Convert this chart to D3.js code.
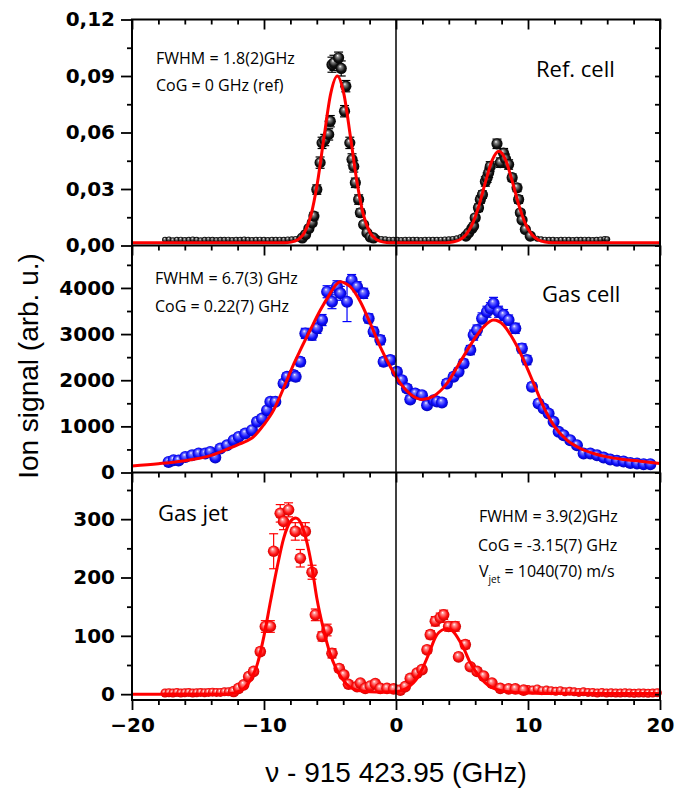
<!DOCTYPE html>
<html>
<head>
<meta charset="utf-8">
<script src="https://cdnjs.cloudflare.com/ajax/libs/d3/7.8.5/d3.min.js"></script>
<style>
  body { margin: 0; background: #fff; }
</style>
</head>
<body>
<div id="content"></div>
<script>
// ---- tick labels
const xTicks = [-20, -10, 0, 10, 20];
const refTicks = [0, 0.03, 0.06, 0.09, 0.12];
const gasTicks = [0, 1000, 2000, 3000, 4000];
const jetTicks = [0, 100, 200, 300];

// ---- Ref. cell (black)
const refX = [-7.1,-6.85,-6.6,-6.35,-6.22,-6.0,-5.75,-5.6,-5.4,-5.1,-4.98,-4.85,-4.7,-4.35,-4.15,-3.9,-3.8,-3.5,-3.33,-3.2,-3.08,-2.83,-2.7,-2.45,-2.2,-1.95,-1.7,
  5.3,5.5,5.75,5.88,6.0,6.25,6.39,6.55,6.77,6.9,7.02,7.14,7.65,7.9,8.15,8.3,8.53,8.8,9.17,9.29,9.42,9.55,9.8,10.17];
const refY = [0.004,0.0058,0.009,0.012,0.0156,0.0297,0.044,0.0545,0.056,0.059,0.066,0.096,0.097,0.0997,0.094,0.0713,0.0846,0.0545,0.0457,0.042,0.0333,0.0244,0.0174,0.0111,0.0067,0.0045,0.004,
  0.005,0.0067,0.009,0.0103,0.0147,0.02,0.0244,0.027,0.034,0.036,0.0386,0.042,0.054,0.044,0.049,0.046,0.043,0.036,0.0306,0.0244,0.0174,0.0135,0.0085,0.005];
const refErr = [0.0005,0.0008,0.001,0.0015,0.002,0.0025,0.003,0.003,0.003,0.003,0.003,0.004,0.004,0.003,0.004,0.003,0.003,0.003,0.003,0.003,0.0025,0.0025,0.002,0.0015,0.001,0.0008,0.0005,
  0.0005,0.0008,0.001,0.001,0.0015,0.002,0.002,0.002,0.0025,0.0025,0.0025,0.0025,0.0025,0.0025,0.0025,0.0025,0.0025,0.002,0.002,0.002,0.0015,0.001,0.001,0.0005];
const refWideX = [-17.5,-17.2,-16.9,-16.6,-16.3,-16.0,-15.7,-15.4,-15.1,-14.8,-14.5,-14.2,-13.9,-13.6,-13.3,-13.0,-12.7,-12.4,-12.1,-11.8,-11.5,-11.2,-10.9,-10.6,-10.3,-10.0,-9.7,-9.4,-9.1,-8.8,-8.5,-8.2,-7.9,-7.6,-7.3,
  -1.4,-1.1,-0.8,-0.5,-0.2,0.1,0.4,0.7,1.0,1.3,1.6,1.9,2.2,2.5,2.8,3.1,3.4,3.7,4.0,4.3,4.6,4.9,5.1,
  10.4,10.7,11.0,11.3,11.6,11.9,12.2,12.5,12.8,13.1,13.4,13.7,14.0,14.3,14.6,14.9,15.2,15.5,15.8,16.0];
const refWideY = [0.003,0.0032,0.0028,0.003,0.0031,0.0029,0.003,0.0032,0.003,0.0028,0.003,0.0031,0.003,0.0029,0.003,0.003,0.0031,0.0029,0.003,0.003,0.0032,0.003,0.0029,0.003,0.0031,0.003,0.0029,0.003,0.003,0.0031,0.003,0.0032,0.0033,0.0035,0.0038,
  0.0038,0.0035,0.0033,0.0031,0.003,0.003,0.0029,0.003,0.0031,0.003,0.003,0.0029,0.003,0.0031,0.003,0.003,0.0031,0.0032,0.0033,0.0035,0.0038,0.0045,0.0052,
  0.0042,0.0036,0.0033,0.0031,0.003,0.003,0.0029,0.003,0.0031,0.003,0.0029,0.003,0.003,0.0031,0.003,0.0029,0.003,0.0032,0.0035,0.0033];
const refFitX = [-20,-8.45,-7.95,-7.45,-6.95,-6.45,-5.95,-5.45,-4.95,-4.45,-3.95,-3.45,-2.95,-2.45,-1.95,-1.45,-0.95,-0.45,
  3.8,4.3,4.8,5.3,5.8,6.3,6.8,7.3,7.8,8.3,8.8,9.3,9.8,10.3,10.8,11.3,11.8,20];
const refFitY = [0.0015,0.0015,0.0018,0.003,0.0066,0.0158,0.0334,0.0577,0.0805,0.090,0.0805,0.0577,0.0334,0.0158,0.0066,0.003,0.0018,0.0015,
  0.0015,0.0019,0.0029,0.0057,0.0116,0.0216,0.0343,0.0455,0.050,0.0455,0.0343,0.0216,0.0116,0.0057,0.0029,0.0019,0.0015,0.0015];

// ---- Gas cell (blue)
const gasX = [-17.23,-16.85,-16.47,-15.96,-15.45,-14.95,-14.45,-14.07,-13.69,-13.31,-12.8,-12.3,-11.92,-11.42,-10.91,-10.53,-10.15,-9.77,-9.52,-9.14,
  -8.52,-8.26,-7.76,-7.6,-7.25,-6.87,-6.36,-5.98,-5.6,-5.22,-4.85,-4.47,-4.22,-3.71,-3.36,-2.95,-2.45,-2.07,-1.7,-1.19,
  -0.94,-0.43,0.07,0.45,0.83,1.08,1.46,1.97,2.35,2.85,3.1,3.48,3.86,4.36,4.74,5.12,5.63,5.88,6.14,6.52,
  6.89,7.15,7.39,7.77,8.15,8.53,9.04,9.54,9.92,10.3,10.8,11.18,11.56,11.94,12.32,12.7,13.2,13.71,14.21,14.72,
  15.23,15.73,16.23,16.74,17.24,17.75,18.26,18.76,19.27];
const gasY = [230,267,260,338,375,412,412,447,325,520,592,700,772,846,918,1098,1171,1351,1531,1531,
  1930,2074,2111,2074,2400,3015,2978,3124,3304,3918,3701,4026,3883,3701,4171,4026,3883,3340,3050,2870,
  2400,2436,2182,2002,1822,1583,1713,1677,1460,1568,1540,1518,1930,2074,2182,2364,2653,2978,3087,3340,
  3484,3560,3666,3484,3412,3304,3124,2690,2436,1857,1497,1388,1280,1098,881,809,700,592,412,412,
  375,325,282,252,238,208,195,180,180];
const gasErr = [30,30,30,30,35,35,35,35,40,40,40,45,45,50,50,55,55,60,70,70,
  80,80,90,90,90,110,110,110,120,130,150,130,150,430,120,110,110,100,100,100,
  90,90,80,80,80,70,70,70,70,70,70,70,80,80,80,90,100,110,110,120,
  120,120,130,120,120,110,110,100,100,80,70,60,60,50,45,40,40,35,30,30,
  30,30,30,30,30,30,30,30,30];
const gasFitX = [-20,-18,-16,-14,-12.5,-12,-11,-10.8,-10,-9.27,-8.8,-8.26,-7.7,-7.25,-6.5,-5.73,-4.98,-4.6,-4.22,-3.84,
  -3.46,-2.7,-1.95,-1.19,-0.43,0.33,1.08,1.97,2.85,3.86,4.87,5.88,6.64,7.39,8.15,8.91,9.67,10.43,11.18,11.94,
  12.95,13.96,14.97,15.98,17.24,18.5,20];
const gasFitY = [143,190,255,370,540,600,730,772,1040,1351,1640,2002,2380,2653,3087,3520,3883,4050,4134,4100,
  4026,3701,3232,2725,2291,1930,1698,1583,1655,1930,2400,2870,3158,3304,3195,2870,2436,1930,1423,1026,
  700,520,412,338,282,245,195];

// ---- Gas jet (red)
const jetX = [-12.3,-11.92,-11.54,-11.16,-10.79,-10.28,-9.9,-9.52,-9.27,-8.77,-8.52,-8.14,-7.63,-7.25,-6.87,-6.36,-6.11,-5.6,-5.22,-4.85,
  -4.3,-3.95,-3.6,-2.95,-2.7,-2.33,-1.95,-1.57,-1.19,-0.68,-0.18,0.33,0.7,1.08,1.59,1.97,2.35,2.6,2.98,3.35,
  3.61,3.99,4.49,4.74,5.25,5.63,6.14,6.64,7.27,7.9,8.53,9.04,9.67];
const jetY = [4.5,10,16,30,39,73,116,116,245,310,296,316,279,233,279,209,136,99,110,70,
  44,33,17,13,19,10,14,18,10,10,9,7,13,27,36,42,76,102,125,131,
  136,116,116,64,85,47,39,31,19,10,9,9,7];
const jetErr = [2,2,3,4,5,6,10,10,30,15,14,12,15,15,15,12,10,8,10,8,
  6,5,4,3,3,3,3,3,3,3,3,3,3,4,5,5,6,7,8,8,
  8,8,8,6,7,5,5,4,3,3,3,3,3];
const jetWideX = [-17.5,-17.2,-16.9,-16.6,-16.3,-16.0,-15.7,-15.4,-15.1,-14.8,-14.5,-14.2,-13.9,-13.6,-13.3,-13.0,-12.7,
  10.0,10.35,10.7,11.05,11.4,11.75,12.1,12.45,12.8,13.15,13.5,13.85,14.2,14.55,14.9,15.25,15.6,15.95,16.3,16.65,17.0,17.35,17.7,18.05,18.4,18.75,19.1,19.45,19.8];
const jetWideY = [2,2.5,2,3,2,2.5,3,2,2.5,3,2.5,3,3.5,3,3,4,4,
  8,7,9,6,7,6,5,6,4,5,4,3,4,3,3,2,3,2,2.5,2,2,2.5,2,1.5,2,2,1.5,2,2.5];
const jetFitX = [-20,-13,-12.5,-12,-11.5,-11,-10.5,-10,-9.5,-9,-8.5,-8,-7.6,-7.2,-6.8,-6.4,-6,-5.5,-5,-4.5,
  -4,-3.5,-3,-2.5,-2,-1,0,0.5,1,1.5,2,2.5,3,3.5,3.9,4.3,4.8,5.2,5.6,6,6.5,7,7.5,8,9,10,12,20];
const jetFitY = [0,0,1,4,10,25,52,100,160,218,268,296,302,293,265,222,165,112,70,42,
  24,12,7,5,4,3.5,4,7,13,24,44,70,98,110,112,108,92,75,55,40,25,15,9,6,3,2,1,1];

const w = 684;
const h = 791;
const x0 = 132, x1 = 660;

const svg = d3.select("#content")
  .append("svg")
  .attr("width", w)
  .attr("height", h);

// sphere-looking markers
const defs = svg.append("defs");
function ball(id, hi, mid, dark) {
  const g = defs.append("radialGradient").attr("id", id)
    .attr("cx", "50%").attr("cy", "50%").attr("r", "55%")
    .attr("fx", "40%").attr("fy", "30%");
  g.append("stop").attr("offset", "0%").attr("stop-color", "#ffffff");
  g.append("stop").attr("offset", "22%").attr("stop-color", hi);
  g.append("stop").attr("offset", "65%").attr("stop-color", mid);
  g.append("stop").attr("offset", "100%").attr("stop-color", dark);
}
ball("ballBlack", "#8a8a8a", "#141414", "#000000");
ball("ballBlue", "#7c7cff", "#1010ff", "#0000a8");
ball("ballRed", "#ff9090", "#ff1010", "#c00000");

const xScale = d3.scaleLinear().domain([-20, 20]).range([x0, x1]);

const yRef = d3.scaleLinear().domain([0, 0.12]).range([245.5, 19.5]);
const yGas = d3.scaleLinear().domain([0, 4920]).range([472.5, 245.5]);
const yJet = d3.scaleLinear().domain([-10, 380]).range([700, 472.5]);

const tickFont = "'DejaVu Sans', sans-serif";

function styleAxis(g) {
  g.select(".domain").remove();
  g.selectAll("line").attr("stroke", "#000").attr("stroke-width", 1.8);
  g.selectAll("text").attr("fill", "#000")
    .style("font-family", tickFont).style("font-weight", "bold").style("font-size", "20px");
}

function yAxes(y, majors, fmt) {
  const step = majors[1] - majors[0];
  const minors = majors.map(d => d + step / 2).filter(d => d < y.domain()[1]);
  svg.append("g").attr("transform", `translate(${x0},0)`)
    .call(d3.axisLeft(y).tickValues(majors).tickFormat(fmt).tickSize(11).tickPadding(6))
    .call(styleAxis);
  svg.append("g").attr("transform", `translate(${x0},0)`)
    .call(d3.axisLeft(y).tickValues(minors).tickFormat("").tickSize(5))
    .call(styleAxis);
  svg.append("g").attr("transform", `translate(${x1},0)`)
    .call(d3.axisRight(y).tickValues(majors.concat(minors)).tickFormat("").tickSize(-5))
    .call(styleAxis);
}

function topTicks(yPos) {
  const minors = d3.range(-18, 20, 2).filter(d => d % 10 !== 0);
  svg.append("g").attr("transform", `translate(0,${yPos})`)
    .call(d3.axisBottom(xScale).tickValues(xTicks).tickFormat("").tickSize(10))
    .call(styleAxis);
  svg.append("g").attr("transform", `translate(0,${yPos})`)
    .call(d3.axisBottom(xScale).tickValues(minors).tickFormat("").tickSize(5))
    .call(styleAxis);
}

function errorBars(xs, ys, es, y, color) {
  const data = d3.zip(xs, ys, es).filter(d => y(d[1] - d[2]) - y(d[1] + d[2]) > 2);
  const g = svg.append("g").attr("stroke", color).attr("stroke-width", 1.2);
  g.selectAll(".eb").data(data).enter().append("line")
    .attr("x1", d => xScale(d[0])).attr("x2", d => xScale(d[0]))
    .attr("y1", d => y(d[1] - d[2])).attr("y2", d => y(d[1] + d[2]));
  [1, -1].forEach(s => {
    g.selectAll(".cap" + s).data(data).enter().append("line")
      .attr("x1", d => xScale(d[0]) - 4.5).attr("x2", d => xScale(d[0]) + 4.5)
      .attr("y1", d => y(d[1] + s * d[2])).attr("y2", d => y(d[1] + s * d[2]));
  });
}

function points(xs, ys, y, grad, r) {
  svg.append("g").selectAll("circle")
    .data(d3.zip(xs, ys))
    .enter()
    .append("circle")
    .attr("cx", d => xScale(d[0]))
    .attr("cy", d => y(d[1]))
    .attr("r", r)
    .attr("fill", `url(#${grad})`);
}

function fitLine(xs, ys, y) {
  const line = d3.line().x(d => xScale(d[0])).y(d => y(d[1])).curve(d3.curveMonotoneX);
  svg.append("path").datum(d3.zip(xs, ys))
    .attr("d", line).attr("fill", "none")
    .attr("stroke", "#ff0000").attr("stroke-width", 3);
}

// data layers
points(refWideX, refWideY, yRef, "ballBlack", 3);
errorBars(refX, refY, refErr, yRef, "#000");
points(refX, refY, yRef, "ballBlack", 5.6);
fitLine(refFitX, refFitY, yRef);

errorBars(gasX, gasY, gasErr, yGas, "#0000ff");
points(gasX, gasY, yGas, "ballBlue", 6);
fitLine(gasFitX, gasFitY, yGas);

points(jetWideX, jetWideY, yJet, "ballRed", 4.5);
errorBars(jetX, jetY, jetErr, yJet, "#ff0000");
points(jetX, jetY, yJet, "ballRed", 5.8);
fitLine(jetFitX, jetFitY, yJet);

// frames, zero line
svg.append("rect").attr("x", x0).attr("y", 19.5).attr("width", x1 - x0).attr("height", 700 - 19.5)
  .attr("fill", "none").attr("stroke", "#000").attr("stroke-width", 2);
[245.5, 472.5].forEach(yy => {
  svg.append("line").attr("x1", x0).attr("x2", x1).attr("y1", yy).attr("y2", yy)
    .attr("stroke", "#000").attr("stroke-width", 2);
});
svg.append("line").attr("x1", xScale(0)).attr("x2", xScale(0)).attr("y1", 19.5).attr("y2", 700)
  .attr("stroke", "#000").attr("stroke-width", 1.5);

// axes
yAxes(yRef, refTicks, d => d3.format(".2f")(d).replace(".", ","));
yAxes(yGas, gasTicks, d3.format("d"));
yAxes(yJet, jetTicks, d3.format("d"));
[19.5, 245.5, 472.5].forEach(topTicks);

svg.append("g").attr("transform", "translate(0,700)")
  .call(d3.axisBottom(xScale).tickValues(xTicks).tickFormat(d3.format("d")).tickSize(10).tickPadding(8))
  .call(styleAxis);
svg.append("g").attr("transform", "translate(0,700)")
  .call(d3.axisBottom(xScale).tickValues(d3.range(-18, 20, 2).filter(d => d % 10 !== 0)).tickFormat("").tickSize(5))
  .call(styleAxis);

// axis titles
svg.append("text")
  .attr("x", xScale(0)).attr("y", 782)
  .attr("text-anchor", "middle")
  .style("font-family", "'Liberation Sans', Arial, sans-serif").style("font-size", "28px")
  .text("ν - 915 423.95 (GHz)");
svg.append("text")
  .attr("transform", "translate(38,366) rotate(-90)")
  .attr("text-anchor", "middle")
  .style("font-family", "'Liberation Sans', Arial, sans-serif").style("font-size", "28px")
  .text("Ion signal (arb. u.)");

// annotations
function note(x, y, txt, size) {
  return svg.append("text").attr("x", x).attr("y", y)
    .style("font-family", "'Open Sans', sans-serif").style("font-size", size + "px")
    .attr("fill", "#000").text(txt);
}
note(156, 64, "FWHM = 1.8(2)GHz", 16);
note(156, 90.5, "CoG = 0 GHz (ref)", 16);
note(536, 77, "Ref. cell", 22);

note(155, 283.5, "FWHM = 6.7(3) GHz", 16);
note(155, 311.5, "CoG = 0.22(7) GHz", 16);
note(542, 302, "Gas cell", 22);

note(158, 521, "Gas jet", 22);
note(479, 522, "FWHM = 3.9(2)GHz", 16);
note(478, 551, "CoG = -3.15(7) GHz", 16);
const v = note(479, 577, "V", 16);
v.append("tspan").attr("dy", 6).style("font-size", "10px").text("jet");
v.append("tspan").attr("dy", -6).text(" = 1040(70) m/s");
</script>
</body>
</html>
